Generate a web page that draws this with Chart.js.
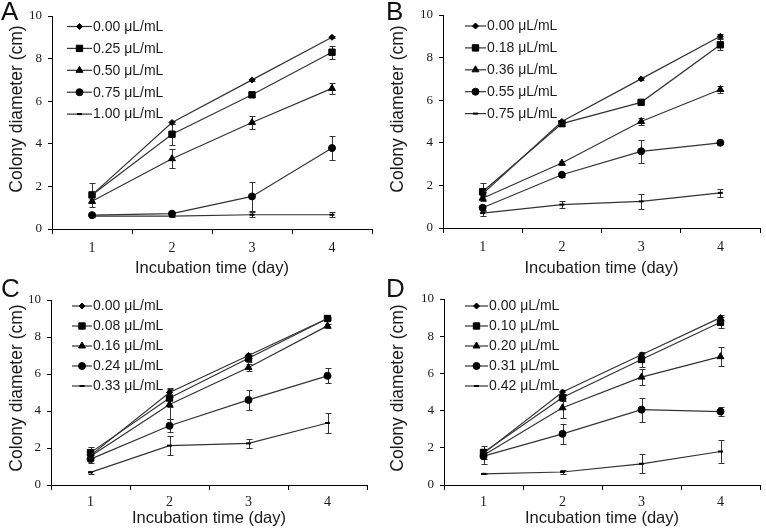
<!DOCTYPE html>
<html>
<head>
<meta charset="utf-8">
<script src="https://cdn.jsdelivr.net/npm/chart.js@4"></script>
<style>
  body { margin: 0; background: #fff; }
  #wrap { position: relative; width: 766px; height: 528px; overflow: hidden; background: #fff; }
  canvas { position: absolute; }
</style>
</head>
<body>
<div id="wrap">
  <canvas id="panelA" width="383" height="278" style="left:0;top:0"></canvas>
  <canvas id="panelB" width="383" height="278" style="left:383px;top:0"></canvas>
  <canvas id="panelC" width="383" height="258" style="left:0;top:270px"></canvas>
  <canvas id="panelD" width="383" height="258" style="left:383px;top:270px"></canvas>
</div>
<script>
const days = ["1", "2", "3", "4"];
const yTicks = [0, 2, 4, 6, 8, 10];

const concA = ["0.00 μL/mL", "0.25 μL/mL", "0.50 μL/mL", "0.75 μL/mL", "1.00 μL/mL"];
const meanA = [
  [1.6, 5.0, 7.0, 9.0],
  [1.6, 4.45, 6.3, 8.3],
  [1.3, 3.3, 5.0, 6.6],
  [0.65, 0.72, 1.53, 3.8],
  [0.6, 0.6, 0.67, 0.67],
];
const errA = [
  [0.05, 0.05, 0.05, 0.05],
  [0.55, 0.5, 0.1, 0.3],
  [0.1, 0.45, 0.3, 0.25],
  [0.1, 0.1, 0.7, 0.55],
  [0.05, 0.05, 0.12, 0.12],
];

const concB = ["0.00 μL/mL", "0.18 μL/mL", "0.36 μL/mL", "0.55 μL/mL", "0.75 μL/mL"];
const meanB = [
  [1.6, 5.0, 7.0, 9.0],
  [1.7, 4.9, 5.9, 8.6],
  [1.4, 3.05, 5.0, 6.5],
  [0.95, 2.5, 3.6, 4.0],
  [0.7, 1.1, 1.25, 1.65],
];
const errB = [
  [0.1, 0.05, 0.05, 0.1],
  [0.4, 0.1, 0.1, 0.25],
  [0.15, 0.1, 0.15, 0.15],
  [0.15, 0.1, 0.55, 0.05],
  [0.15, 0.15, 0.35, 0.2],
];

const concC = ["0.00 μL/mL", "0.08 μL/mL", "0.16 μL/mL", "0.24 μL/mL", "0.33 μL/mL"];
const meanC = [
  [1.6, 5.0, 7.0, 9.0],
  [1.75, 4.7, 6.85, 9.0],
  [1.55, 4.35, 6.35, 8.6],
  [1.4, 3.2, 4.6, 5.9],
  [0.68, 2.13, 2.25, 3.35],
];
const errC = [
  [0.1, 0.25, 0.15, 0.05],
  [0.3, 0.5, 0.2, 0.1],
  [0.2, 0.8, 0.2, 0.1],
  [0.2, 0.35, 0.55, 0.4],
  [0.1, 0.5, 0.25, 0.55],
];

const concD = ["0.00 μL/mL", "0.10 μL/mL", "0.20 μL/mL", "0.31 μL/mL", "0.42 μL/mL"];
const meanD = [
  [1.7, 5.0, 7.0, 9.0],
  [1.75, 4.7, 6.75, 8.75],
  [1.6, 4.15, 5.8, 6.9],
  [1.55, 2.75, 4.05, 3.95],
  [0.6, 0.7, 1.14, 1.8],
];
const errD = [
  [0.1, 0.1, 0.1, 0.15],
  [0.35, 0.2, 0.4, 0.3],
  [0.2, 0.55, 0.45, 0.5],
  [0.4, 0.55, 0.65, 0.25],
  [0.02, 0.1, 0.5, 0.6],
];

// marker look per series position
const markers = [
  { style: "rectRot", radius: 3, border: 1 },
  { style: "rect", radius: 4.5, border: 1 },
  { style: "triangle", radius: 4, border: 1 },
  { style: "circle", radius: 3.5, border: 1 },
  { style: "line", radius: 2.5, border: 2 },
];

const sans = "'Liberation Sans', Arial, sans-serif";
const serif = "'Liberation Serif', 'Times New Roman', serif";

// error bars, legend inside the plot, panel letter, y title
const panelDeco = {
  id: "panelDeco",
  beforeDatasetsDraw(chart) {
    const ctx = chart.ctx;
    const y = chart.scales.y;
    ctx.save();
    ctx.strokeStyle = "#333";
    ctx.lineWidth = 1;
    chart.data.datasets.forEach((ds, i) => {
      const meta = chart.getDatasetMeta(i);
      ds.errors.forEach((e, j) => {
        const pt = meta.data[j];
        const v = ds.data[j];
        const top = Math.round(y.getPixelForValue(v + e)) + 0.5;
        const bot = Math.round(y.getPixelForValue(v - e)) + 0.5;
        const x = Math.round(pt.x) + 0.5;
        ctx.beginPath();
        ctx.moveTo(x, top); ctx.lineTo(x, bot);
        ctx.moveTo(x - 3, top); ctx.lineTo(x + 3, top);
        ctx.moveTo(x - 3, bot); ctx.lineTo(x + 3, bot);
        ctx.stroke();
      });
    });
    ctx.restore();
  },
  afterDraw(chart, args, opts) {
    const ctx = chart.ctx;
    ctx.save();
    // legend
    chart.data.datasets.forEach((ds, i) => {
      const ly = opts.legY + i * opts.legStep;
      ctx.strokeStyle = "#333";
      ctx.lineWidth = 1.2;
      ctx.beginPath();
      ctx.moveTo(opts.legX1, ly);
      ctx.lineTo(opts.legX2, ly);
      ctx.stroke();
      const m = markers[i];
      ctx.fillStyle = "#000";
      ctx.strokeStyle = "#000";
      ctx.lineWidth = m.border;
      Chart.helpers.drawPoint(ctx, {
        pointStyle: m.style, radius: m.radius, rotation: 0, borderWidth: m.border,
      }, (opts.legX1 + opts.legX2) / 2, ly);
      ctx.fillStyle = "#1a1a1a";
      ctx.font = "14px " + sans;
      ctx.textAlign = "left";
      ctx.textBaseline = "middle";
      ctx.fillText(ds.label, opts.legX2 + 1, ly + 0.5);
    });
    // panel letter
    ctx.fillStyle = "#111";
    ctx.font = "26px " + sans;
    ctx.textAlign = "left";
    ctx.textBaseline = "alphabetic";
    ctx.fillText(opts.letter, opts.letterX, opts.letterY);
    // y title
    ctx.translate(opts.yTitleX, opts.yTitleY);
    ctx.rotate(-Math.PI / 2);
    ctx.font = "17.5px " + sans;
    ctx.textAlign = "center";
    ctx.textBaseline = "middle";
    ctx.fillStyle = "#1a1a1a";
    ctx.fillText("Colony diameter (cm)", 0, 0);
    ctx.restore();
  },
};

function makePanel(id, conc, means, errs, geo) {
  const datasets = conc.map((label, i) => ({
    label: label,
    data: means[i],
    errors: errs[i],
    borderColor: "#333",
    borderWidth: 1.2,
    pointStyle: markers[i].style,
    pointRadius: markers[i].radius,
    pointBorderWidth: markers[i].border,
    pointBackgroundColor: "#000",
    pointBorderColor: "#000",
    tension: 0,
    fill: false,
  }));

  new Chart(document.getElementById(id).getContext("2d"), {
    type: "line",
    data: { labels: days, datasets: datasets },
    plugins: [panelDeco],
    options: {
      responsive: false,
      animation: false,
      devicePixelRatio: 1,
      events: [],
      layout: { padding: { left: 0, top: geo.padTop, right: geo.padRight, bottom: 0 } },
      scales: {
        x: {
          type: "category",
          offset: true,
          grid: { offset: true, drawOnChartArea: false, drawTicks: true, tickLength: 5, color: "#000" },
          border: { color: "#000", width: 1 },
          ticks: { color: "#1a1a1a", padding: geo.xTickPad, font: { family: serif, size: 14 } },
          title: {
            display: true,
            text: "Incubation time (day)",
            color: "#1a1a1a",
            font: { family: sans, size: 16.5 },
            padding: { top: 0, bottom: 0 },
          },
          afterFit: (s) => { s.height = geo.xHeight; },
        },
        y: {
          min: 0,
          max: 10,
          afterBuildTicks: (s) => { s.ticks = yTicks.map((v) => ({ value: v })); },
          grid: { drawOnChartArea: false, drawTicks: true, tickLength: 4, color: "#000" },
          border: { color: "#000", width: 1 },
          ticks: { color: "#1a1a1a", padding: 6, font: { family: serif, size: 13 } },
          afterFit: (s) => { s.width = geo.yWidth; },
        },
      },
      plugins: {
        legend: { display: false },
        tooltip: { enabled: false },
        panelDeco: geo.deco,
      },
    },
  });
}

makePanel("panelA", concA, meanA, errA, {
  padTop: 16, padRight: 11, yWidth: 52, xHeight: 49, xTickPad: 6,
  deco: { letter: "A", letterX: 1, letterY: 20, yTitleX: 17, yTitleY: 109,
          legX1: 67, legX2: 92, legY: 26.5, legStep: 21.9 },
});
makePanel("panelB", concB, meanB, errB, {
  padTop: 15, padRight: 3, yWidth: 60, xHeight: 50, xTickPad: 6,
  deco: { letter: "B", letterX: 3, letterY: 20, yTitleX: 15, yTitleY: 109,
          legX1: 82, legX2: 103, legY: 26, legStep: 21.9 },
});
makePanel("panelC", concC, meanC, errC, {
  padTop: 30, padRight: 16, yWidth: 51, xHeight: 43, xTickPad: 4,
  deco: { letter: "C", letterX: 1, letterY: 27, yTitleX: 17, yTitleY: 118,
          legX1: 72, legX2: 92, legY: 36, legStep: 20 },
});
makePanel("panelD", concD, meanD, errD, {
  padTop: 29, padRight: 3, yWidth: 61, xHeight: 43, xTickPad: 4,
  deco: { letter: "D", letterX: 3, letterY: 27, yTitleX: 15, yTitleY: 118,
          legX1: 82, legX2: 105, legY: 36, legStep: 20 },
});
</script>
</body>
</html>
